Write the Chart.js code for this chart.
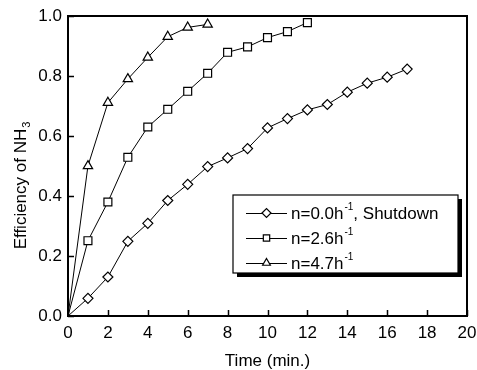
<!DOCTYPE html>
<html>
<head>
<meta charset="utf-8">
<script src="https://cdn.jsdelivr.net/npm/chart.js@4.4.0/dist/chart.umd.min.js"></script>
<style>
  html, body { margin: 0; padding: 0; background: #fff; }
  #wrap { width: 477px; height: 370px; }
</style>
</head>
<body>
<div id="wrap"><canvas id="chart" width="477" height="370"></canvas></div>
<script>
// time (min.) and NH3 efficiency
const timeShutdown = [0, 1, 2, 3, 4, 5, 6, 7, 8, 9, 10, 11, 12, 13, 14, 15, 16, 17];
const effShutdown = [0, 0.059, 0.13, 0.249, 0.309, 0.385, 0.439, 0.498, 0.527, 0.558, 0.627, 0.658, 0.687, 0.705, 0.746, 0.776, 0.796, 0.823];
const time26 = [0, 1, 2, 3, 4, 5, 6, 7, 8, 9, 10, 11, 12];
const eff26 = [0, 0.251, 0.38, 0.529, 0.63, 0.689, 0.749, 0.809, 0.879, 0.897, 0.928, 0.948, 0.978];
const time47 = [0, 1, 2, 3, 4, 5, 6, 7];
const eff47 = [0, 0.5, 0.711, 0.79, 0.862, 0.931, 0.962, 0.972];

const xTicks = [0, 2, 4, 6, 8, 10, 12, 14, 16, 18, 20];
const yTicks = [0, 0.2, 0.4, 0.6, 0.8, 1.0];

// legend text: [main, superscript, rest]
const legendLabels = [
    ['n=0.0h', '-1', ', Shutdown'],
    ['n=2.6h', '-1', ''],
    ['n=4.7h', '-1', '']
];

const FONT = '"Liberation Sans", Arial, sans-serif';

function toPoints(xs, ys) {
    return xs.map((x, i) => ({ x: x, y: ys[i] }));
}

function series(label, xs, ys, style, radius) {
    return {
        label: label,
        data: toPoints(xs, ys),
        borderColor: '#000',
        borderWidth: 1,
        backgroundColor: '#fff',
        pointStyle: style,
        pointRadius: ctx => ctx.dataIndex === 0 ? 0 : radius,
        pointBorderWidth: 1.2,
        pointBorderColor: '#000',
        pointBackgroundColor: '#fff',
        showLine: true,
        tension: 0
    };
}

const framePlugin = {
    id: 'frame',
    afterDraw(chart) {
        const ctx = chart.ctx;
        const a = chart.chartArea;
        const xs = chart.scales.x;
        const ys = chart.scales.y;
        ctx.save();
        ctx.strokeStyle = '#000';

        // inward tick marks
        ctx.lineWidth = 1.5;
        ctx.beginPath();
        xTicks.forEach(v => {
            const px = Math.round(xs.getPixelForValue(v)) + 0.5;
            ctx.moveTo(px, a.bottom);
            ctx.lineTo(px, a.bottom - 6);
        });
        yTicks.forEach(v => {
            const py = Math.round(ys.getPixelForValue(v)) + 0.5;
            ctx.moveTo(a.left, py);
            ctx.lineTo(a.left + 6, py);
        });
        ctx.stroke();

        // box
        ctx.lineWidth = 2;
        ctx.strokeRect(a.left, a.top, a.right - a.left, a.bottom - a.top);

        // axis titles
        ctx.fillStyle = '#000';
        ctx.font = '17px ' + FONT;
        ctx.textAlign = 'center';
        ctx.textBaseline = 'alphabetic';
        ctx.fillText('Time (min.)', (a.left + a.right) / 2, 366);

        ctx.save();
        ctx.translate(26, 186);
        ctx.rotate(-Math.PI / 2);
        const main = 'Efficiency of NH';
        ctx.font = '17px ' + FONT;
        const w1 = ctx.measureText(main).width;
        ctx.font = '11px ' + FONT;
        const w2 = ctx.measureText('3').width;
        const start = -(w1 + w2) / 2;
        ctx.textAlign = 'left';
        ctx.font = '17px ' + FONT;
        ctx.fillText(main, start, 0);
        ctx.font = '11px ' + FONT;
        ctx.fillText('3', start + w1 + 1, 4);
        ctx.restore();

        // legend
        const lx = 233, ly = 195, lw = 225, lh = 78;
        ctx.fillStyle = '#000';
        ctx.fillRect(lx + 4, ly + 4, lw, lh);
        ctx.fillStyle = '#fff';
        ctx.fillRect(lx, ly, lw, lh);
        ctx.lineWidth = 1.2;
        ctx.strokeRect(lx, ly, lw, lh);

        const rowY = [213, 238, 263];
        chart.data.datasets.forEach((ds, i) => {
            const y = rowY[i];
            ctx.strokeStyle = '#000';
            ctx.lineWidth = 1;
            ctx.beginPath();
            ctx.moveTo(246, y + 0.5);
            ctx.lineTo(287, y + 0.5);
            ctx.stroke();
            ctx.fillStyle = '#fff';
            ctx.lineWidth = 1.2;
            Chart.helpers.drawPoint(ctx, {
                pointStyle: ds.pointStyle,
                radius: 4.5,
                rotation: 0,
                borderWidth: 1.2
            }, 266.5, y);

            const parts = legendLabels[i];
            let tx = 291;
            ctx.fillStyle = '#000';
            ctx.textAlign = 'left';
            ctx.textBaseline = 'middle';
            ctx.font = '17px ' + FONT;
            ctx.fillText(parts[0], tx, y + 1);
            tx += ctx.measureText(parts[0]).width;
            ctx.font = '10px ' + FONT;
            ctx.fillText(parts[1], tx + 1, y - 6);
            tx += ctx.measureText(parts[1]).width + 1;
            ctx.font = '17px ' + FONT;
            ctx.fillText(parts[2], tx, y + 1);
        });
        ctx.restore();
    }
};

new Chart(document.getElementById('chart'), {
    type: 'scatter',
    data: {
        datasets: [
            series('n=0.0h-1, Shutdown', timeShutdown, effShutdown, 'rectRot', 5),
            series('n=2.6h-1', time26, eff26, 'rect', 5.6),
            series('n=4.7h-1', time47, eff47, 'triangle', 5.4)
        ]
    },
    options: {
        responsive: false,
        animation: false,
        devicePixelRatio: 1,
        layout: { padding: { top: 16, right: 10, left: 0, bottom: 0 } },
        plugins: {
            legend: { display: false },
            tooltip: { enabled: false }
        },
        scales: {
            x: {
                type: 'linear',
                min: 0,
                max: 20,
                afterBuildTicks: s => { s.ticks = xTicks.map(v => ({ value: v })); },
                afterFit: s => { s.height = 54; s.paddingLeft = 0; s.paddingRight = 0; },
                grid: { display: true, drawOnChartArea: false, drawTicks: false },
                border: { display: false },
                ticks: {
                    color: '#000',
                    padding: 7,
                    font: { family: FONT, size: 17 },
                    maxRotation: 0,
                    callback: v => String(v)
                }
            },
            y: {
                type: 'linear',
                min: 0,
                max: 1,
                afterBuildTicks: s => { s.ticks = yTicks.map(v => ({ value: v })); },
                afterFit: s => { s.width = 68; s.paddingTop = 0; s.paddingBottom = 0; },
                grid: { display: true, drawOnChartArea: false, drawTicks: false },
                border: { display: false },
                ticks: {
                    color: '#000',
                    padding: 6,
                    font: { family: FONT, size: 17 },
                    callback: v => v.toFixed(1)
                }
            }
        }
    },
    plugins: [framePlugin]
});
</script>
</body>
</html>
